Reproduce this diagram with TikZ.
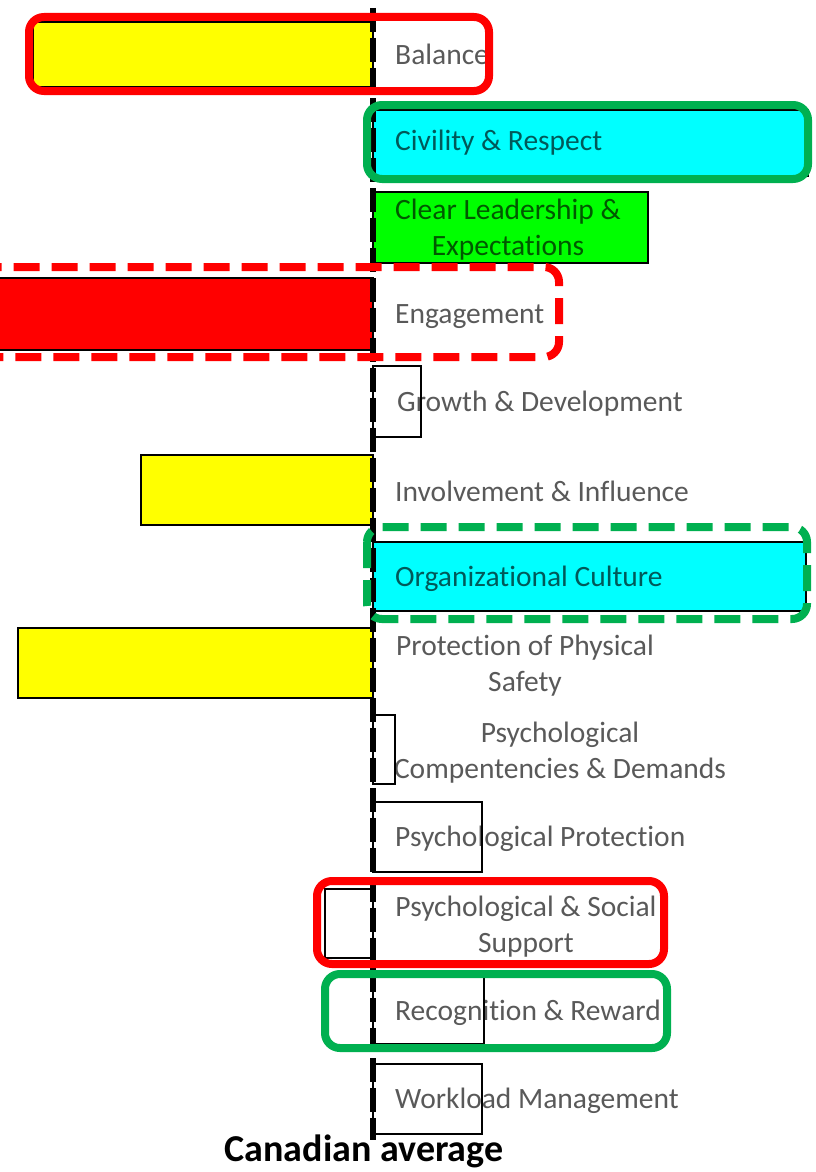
\documentclass[tikz,border=0pt]{standalone}
\usepackage{fontspec}
\setmainfont{Carlito}[Ligatures=CommonOff]
\begin{document}
\begin{tikzpicture}[x=1pt,y=-1pt,
  bar/.style={draw=black,line width=2pt},
  lbl/.style={text=black,text opacity=0.65,font=\fontsize{29.5}{36}\selectfont,inner sep=0pt},
  lblw/.style={lbl,anchor=west},
  lblc/.style={lbl,align=center},
  hlbox/.style={line width=8pt,rounded corners=15pt},
  axisline/.style={line width=6pt,dash pattern=on 24pt off 6pt}]
\definecolor{hlgreen}{RGB}{0,176,80}
\definecolor{hlred}{RGB}{255,0,0}
\definecolor{byellow}{RGB}{255,255,0}
\definecolor{bcyan}{RGB}{0,255,255}
\definecolor{bgreen}{RGB}{0,255,0}
\definecolor{bred}{RGB}{255,0,0}
\clip (0,0) rectangle (815,1172);
\fill[white] (0,0) rectangle (815,1172);
% bars
\path[bar,fill=byellow]  (33,22)   rectangle (373,87);
\path[bar,fill=bcyan]    (373,110) rectangle (808,176);
\path[bar,fill=bgreen]   (373,192) rectangle (648,263);
\path[bar,fill=bred]     (-5,278)  rectangle (373,350);
\path[bar,fill=white]    (373,366) rectangle (421,437);
\path[bar,fill=byellow]  (141,455) rectangle (373,525);
\path[bar,fill=bcyan]    (373,542) rectangle (806,611);
\path[bar,fill=byellow]  (18,628)  rectangle (373,698);
\path[bar,fill=white]    (373,715) rectangle (395,784);
\path[bar,fill=white]    (373,802) rectangle (482,872);
\path[bar,fill=white]    (325,889) rectangle (373,958);
\path[bar,fill=white]    (373,977) rectangle (484,1044);
\path[bar,fill=white]    (373,1064) rectangle (482,1134);
% axis
\coordinate (axtop) at (373,8);
\coordinate (axbot) at (373,1140);
\draw[axisline] (axtop) -- (axbot);
% labels
\node[lblw] (l1) at (395,54) {Balance};
\node[lblw] (l2) at (395,143) {Civility \& Respect};
\node[lblc] (l3) at (508,230) {Clear Leadership \&\\Expectations};
\node[lblw] (l4) at (395,317) {Engagement};
\node[lblw] (l5) at (397,404) {Growth \& Development};
\node[lblw] (l6) at (395,491) {Involvement \& Influence};
\node[lblw] (l7) at (395,579) {Organizational Culture};
\node[lblc] (l8) at (525,666) {Protection of Physical\\Safety};
\node[lblc] (l9) at (560,753) {Psychological\\Compentencies \& Demands};
\node[lblw] (l10) at (395,839) {Psychological Protection};
\node[lblc] (l11) at (526,927) {Psychological \& Social\\Support};
\node[lblw] (l12) at (395,1013) {Recognition \& Reward};
\node[lblw] (l13) at (395,1101) {Workload Management};
% highlight boxes
\draw[hlbox,draw=hlred]    (29,17)   rectangle (489,91);
\draw[hlbox,draw=hlgreen]  (367,105) rectangle (808,179);
\draw[hlbox,draw=hlred,dash pattern=on 26pt off 12pt]   (-30,267) rectangle (559,357);
\draw[hlbox,draw=hlgreen,dash pattern=on 26pt off 12pt] (367,527) rectangle (807,619);
\draw[hlbox,draw=hlred]    (317,881) rectangle (664,964);
\draw[hlbox,draw=hlgreen]  (325,974) rectangle (667,1048);
% caption
\node[font=\bfseries\fontsize{38}{44}\selectfont,inner sep=0pt] (cap) at (364,1151) {Canadian average};
\end{tikzpicture}
\end{document}
